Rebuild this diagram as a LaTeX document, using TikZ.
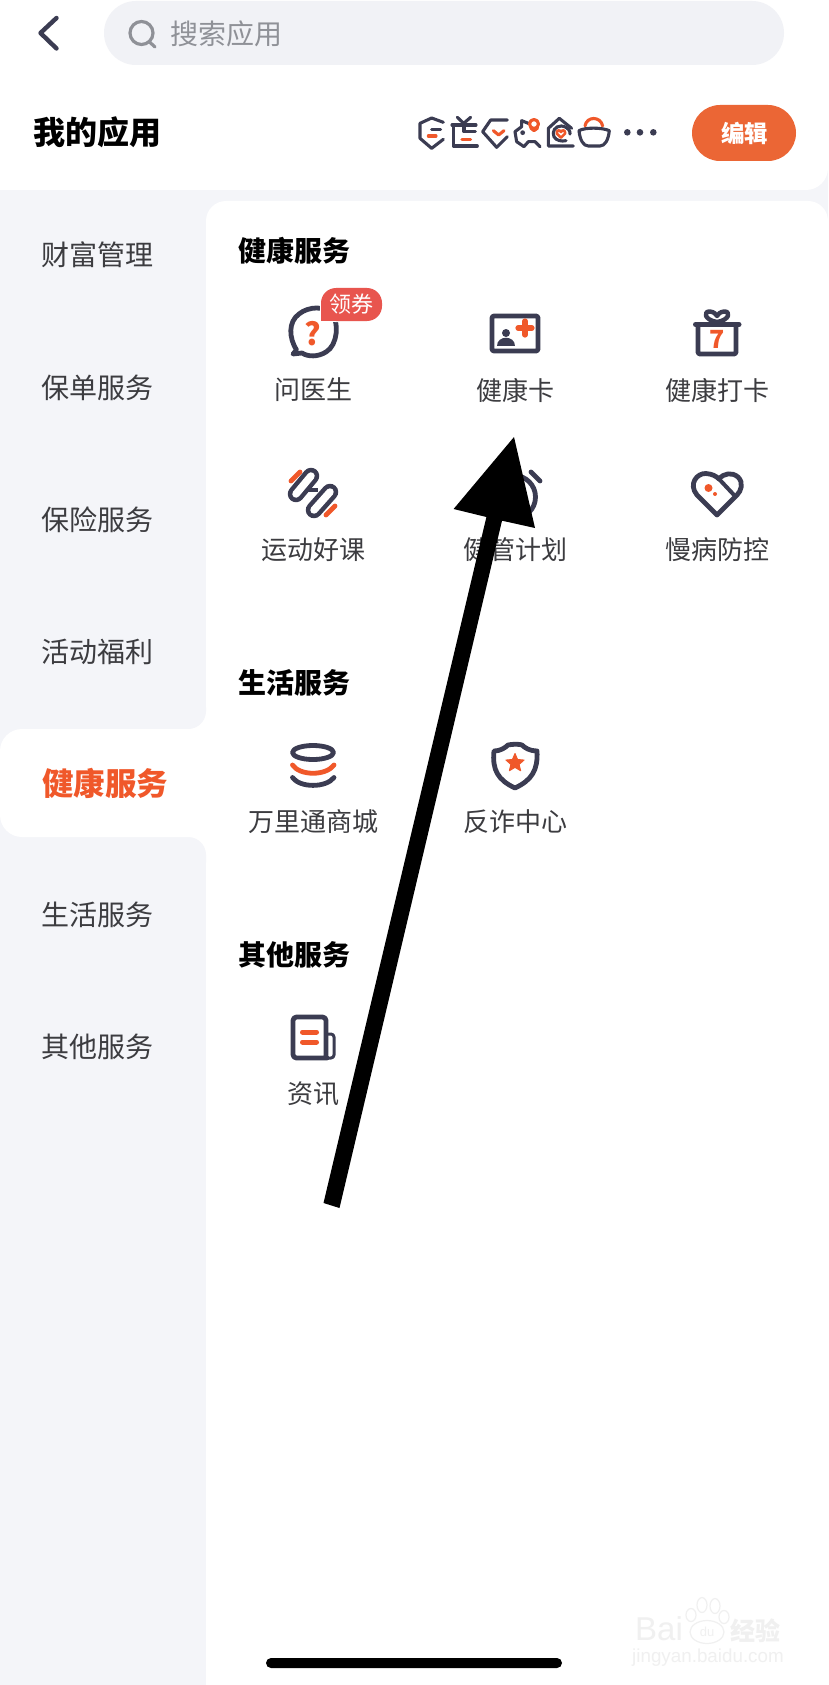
\documentclass[tikz,border=0pt]{standalone}
\usepackage{fontspec}
\setmainfont{Noto Sans CJK SC}
\newfontfamily\latinwm{Liberation Sans}
\usetikzlibrary{shapes.geometric}
\definecolor{pagebg}{HTML}{F4F5F9}
\definecolor{pillbg}{HTML}{F1F2F6}
\definecolor{ink}{HTML}{3B3C52}
\definecolor{acc}{HTML}{F0582A}
\definecolor{btn}{HTML}{EB6635}
\definecolor{badge}{HTML}{E8554E}
\definecolor{labelc}{HTML}{3C3C40}
\definecolor{hint}{HTML}{8F9197}
\definecolor{wm}{HTML}{F0F0F0}
\tikzset{
 ic/.style={draw=ink,line width=4.8pt,line cap=round,line join=round},
 ac/.style={draw=acc,line width=4.8pt,line cap=round,line join=round},
 smallic/.style={draw=ink,line width=3.1pt,line cap=round,line join=round},
 smallac/.style={draw=acc,line width=3.1pt,line cap=round,line join=round},
 lab/.style={font=\fontsize{26}{27}\selectfont,text=labelc,inner sep=0pt,anchor=center},
 side/.style={font=\fontsize{28}{29}\selectfont,text=labelc,inner sep=0pt,anchor=west},
 sect/.style={font=\fontsize{28}{29}\selectfont\bfseries,text=black,inner sep=0pt,anchor=west},
}
\begin{document}
\begin{tikzpicture}[x=1pt,y=-1pt]
\useasboundingbox (0,0) rectangle (828,1685);
\fill[pagebg] (0,0) rectangle (828,1685);
% header
\fill[white,rounded corners=22pt] (-40,-40) rectangle (828,190);
\fill[white] (-1,-1) rectangle (828,60);
% panel
\fill[white,rounded corners=20pt] (206,201) -- (828,201) -- (828,1725) -- (206,1725) -- cycle;
\fill[white] (206,240) rectangle (828,1685);
\fill[white] (188,705) rectangle (206,860);
\fill[pagebg,rounded corners=18pt] (-30,690) -- (206,690) -- (206,729) -- (-30,729) -- cycle;
\fill[pagebg] (-1,680) rectangle (206,712);
\fill[pagebg,rounded corners=18pt] (-30,837) -- (206,837) -- (206,880) -- (-30,880) -- cycle;
\fill[pagebg] (-1,860) rectangle (206,890);
\fill[white,rounded corners=22pt] (0,729) -- (240,729) -- (240,837) -- (0,837) -- cycle;
% search
\fill[pillbg,rounded corners=32pt] (104,1) rectangle (784,65);
\draw[draw=ink,line width=4.4pt,line cap=round,line join=round] (56.5,18) -- (40.5,33) -- (56.5,48.5);
\draw[draw=hint,line width=3.2pt] (141.5,33) circle (11.5pt);
\draw[draw=hint,line width=3.2pt,line cap=round] (149.5,42) -- (155,47);
\node[font=\fontsize{28}{29}\selectfont,text=hint,inner sep=0pt,anchor=west] (searchtxt) at (170.5,33.5) {搜索应用};
\node[font=\fontsize{32}{33}\selectfont\bfseries,text=black,inner sep=0pt,anchor=west] (mine) at (33,132.5) {我的应用};
% button
\fill[btn,rounded corners=28pt] (692,105) rectangle (796,161);
\node[font=\fontsize{23.5}{24}\selectfont\bfseries,text=white,inner sep=0pt] (edit) at (744.5,133) {编辑};
% strip icons
\begin{scope}[x=0.3333pt,y=-0.3333pt,shift={(400pt,-90pt)}]
\draw[smallic] (130,97) -- (95,84) -- (60,100) -- (60,145) -- (95,175) -- (130,148);
\draw[smallic] (95,118) -- (122,118);
\draw[smallac] (85,138) -- (108,138);
\draw[smallic] (172,82) -- (191,100) -- (212,82);
\draw[smallic] (156,105) -- (228,105);
\draw[smallic] (160,105) -- (160,168) -- (232,168);
\draw[smallic] (192,105) -- (192,125) -- (226,125);
\draw[smallac] (186,148) -- (212,148);
\draw[smallic] (322,90) -- (272,90) -- (248,125) -- (290,172) -- (322,140);
\draw[smallac] (280,122) -- (296,135) -- (312,122);
\draw[smallic] (385,100) -- (365,92) -- (365,110) -- (345,125) -- (350,155) -- (372,170) -- (385,155) -- (405,155) -- (420,170);
\fill[ink] (368,128) circle (2.4pt);
\draw[smallac] (402,102) circle (4.5pt);
\draw[smallac] (392,114) -- (402,122) -- (413,114);
\draw[smallic] (515,115) -- (478,85) -- (445,115) -- (445,168) -- (520,168);
\draw[smallic] (510,132) .. controls (512,125) and (505,110) .. (484,108) .. controls (465,108) and (455,125) .. (462,140) .. controls (468,152) and (485,155) .. (498,152);
\draw[draw=acc,line width=2.6pt,line join=round] (483,143) -- (471,131) .. controls (468,120) and (480,118) .. (483,126) .. controls (486,118) and (498,120) .. (495,131) -- cycle;
\draw[smallac] (555,108) .. controls (560,78) and (602,78) .. (608,108);
\draw[smallic] (537,122) .. controls (555,112) and (605,112) .. (628,122) .. controls (625,150) and (615,168) .. (600,168) -- (565,168) .. controls (550,168) and (540,150) .. (537,122) -- cycle;
\fill[ink] (682,127) circle (3.3pt) (720,127) circle (3.3pt) (760,127) circle (3.3pt);
\end{scope}
% sidebar
\node[side] (s1) at (41.5,255) {财富管理};
\node[side] (s2) at (41.5,387.5) {保单服务};
\node[side] (s3) at (41.5,519.5) {保险服务};
\node[side] (s4) at (41.5,651.5) {活动福利};
\node[side,text=acc,font=\fontsize{31.5}{32}\selectfont\bfseries] (s5) at (42,783) {健康服务};
\node[side] (s6) at (41.5,915) {生活服务};
\node[side] (s7) at (41.5,1047) {其他服务};
% sections
\node[sect] (h1) at (238.5,250.5) {健康服务};
\node[sect] (h2) at (238.5,682.5) {生活服务};
\node[sect] (h3) at (238.5,954.5) {其他服务};
% wen yisheng
\draw[ic] (296.5,350) .. controls (289,338) and (288,322) .. (299,314) .. controls (309,306) and (325,306) .. (332,314) .. controls (339,322) and (338,345) .. (326,352) .. controls (318,357) and (308,357) .. (302,353) -- (293,354) -- cycle;
\fill[white,rounded corners=15pt] (320,322) -- (320,286.5) -- (383.5,286.5) -- (383.5,322) -- cycle;
\fill[white] (320,305) rectangle (336,322);
\fill[badge,rounded corners=15pt] (321,321) -- (321,288) -- (382,288) -- (382,321) -- cycle;
\fill[badge] (321,305) rectangle (336,321);
\node[font=\fontsize{22}{23}\selectfont,text=white,inner sep=0pt] (coupon) at (351.5,304.5) {领券};
\node[font=\fontsize{31}{32}\selectfont\bfseries,text=acc,inner sep=0pt] (qm) at (313,334) {?};
\node[lab] (l1) at (313.5,390) {问医生};
% card
\draw[ic,rounded corners=2pt] (492,316) rectangle (538,351);
\draw[draw=acc,line width=5.2pt,line cap=round] (518,328) -- (532,328) (525,321) -- (525,335);
\fill[ink] (506,333) circle (4pt);
\fill[ink] (497,346) .. controls (497,335) and (515,335) .. (515,346) -- cycle;
\node[lab] (l2) at (515.5,390) {健康卡};
% gift
\draw[draw=ink,line width=5pt,line cap=round] (695.5,324.5) -- (739,324.5);
\draw[ic,rounded corners=1.5pt] (698,325) -- (698,354) -- (736,354) -- (736,325);
\draw[draw=ink,line width=4.4pt,line join=round] (717,322) .. controls (704,320) and (703,311) .. (710,311.5) .. controls (714,312) and (716,314) .. (717,316) .. controls (718,314) and (720,312) .. (724,311.5) .. controls (731,311) and (730,320) .. (717,322) -- cycle;
\node[font=\fontsize{25}{26}\selectfont\bfseries,text=acc,inner sep=0pt] (seven) at (717,339) {7};
\node[lab] (l3) at (717.5,390) {健康打卡};
% dumbbell
\draw[draw=ink,line width=16.5pt,line cap=round] (311,476) -- (296,494);
\draw[draw=white,line width=7.5pt,line cap=round] (311,476) -- (296,494);
\draw[draw=ink,line width=16.5pt,line cap=round] (330,492) -- (314,510);
\draw[draw=white,line width=7.5pt,line cap=round] (330,492) -- (314,510);
\draw[draw=ink,line width=4pt] (307,490) -- (318,490);
\draw[ac] (291,481) -- (300,472);
\draw[ac] (326,515) -- (335,506);
\node[lab] (l4) at (313.5,550) {运动好课};
% plan
\draw[ic] (514,497) circle (21.5pt);
\draw[ic] (531,472) -- (540,481);
\node[lab] (l5) at (515.5,550) {健管计划};
% heart
\draw[ic] (717,515) -- (697,495) .. controls (688,484) and (697,473) .. (706,473.5) .. controls (712,474) and (716,476) .. (719,479) .. controls (724,473) and (732,472) .. (738,477) .. controls (744,483) and (741,491) .. (737,495) -- cycle;
\draw[draw=ink,line width=4pt,line cap=round] (719,479) -- (734,495);
\fill[acc] (708.5,488) circle (4pt) (715,494) circle (2pt);
\node[lab] (l6) at (717.5,550) {慢病防控};
% coins
\draw[ic] (313,752.5) ellipse (20.5pt and 7pt);
\draw[ac] (292.5,765) .. controls (300,776) and (326,776) .. (334,765);
\draw[ic] (292.5,777.5) .. controls (300,788) and (326,788) .. (334,777.5);
\node[lab] (l7) at (313.5,822) {万里通商城};
% shield
\draw[ic] (494,751) .. controls (500,751) and (505,748) .. (508,745) .. controls (512,744) and (520,744) .. (522,745) .. controls (525,748) and (530,751) .. (537,751) .. controls (538,770) and (532,780) .. (515,788) .. controls (498,780) and (492,770) .. (494,751) -- cycle;
\node[star,star points=5,star point ratio=2.2,fill=acc,draw=acc,line width=1pt,line join=round,minimum size=19pt,inner sep=0pt] (starA) at (515,763) {};
\node[lab] (l8) at (515.5,822) {反诈中心};
% news
\draw[ic,rounded corners=3.5pt] (327,1058) -- (293,1058) -- (293,1017) -- (326,1017) -- (326,1058);
\draw[draw=ink,line width=3pt,line join=round,rounded corners=3pt] (327,1034) -- (334,1034) -- (334,1058) -- (325,1058);
\draw[draw=acc,line width=5pt,line cap=round] (302.5,1032) -- (316.5,1032) (302.5,1042) -- (316.5,1042);
\node[lab] (l9) at (313.5,1094) {资讯};
% home bar
\fill[black,rounded corners=5pt] (266,1658) rectangle (562,1668);
% watermark
\node[font=\fontsize{33}{33}\selectfont\latinwm,text=wm,inner sep=0pt,anchor=west] (wmb) at (635,1629) {Bai};
\draw[draw=wm,line width=1.2pt] (707,1632) ellipse (17pt and 11.5pt);
\node[font=\fontsize{13}{14}\selectfont\latinwm,text=wm,inner sep=0pt] (wmd) at (707,1632) {du};
\draw[draw=wm,line width=1.2pt] (691,1615) ellipse (5pt and 6.5pt) (702,1605) ellipse (5pt and 7.5pt) (715,1606) ellipse (5pt and 7.5pt) (724,1617) ellipse (5pt and 6.5pt);
\node[font=\fontsize{25}{26}\selectfont\bfseries,text=wm,inner sep=0pt] (wmj) at (755,1631) {经验};
\node[font=\fontsize{18.8}{19}\selectfont\latinwm,text=wm,inner sep=0pt] (wmu) at (708,1658) {jingyan.baidu.com};
% arrow
\coordinate (tail1) at (323.5,1203);
\coordinate (tail2) at (339.5,1208);
\coordinate (neckR) at (502,520.7);
\coordinate (barbR) at (535,528);
\coordinate (tip) at (514,437);
\coordinate (barbL) at (453.6,509);
\coordinate (neckL) at (486.4,517);
\fill[black] (tail1) -- (neckL) -- (barbL) -- (tip) -- (barbR) -- (neckR) -- (tail2) -- cycle;
\end{tikzpicture}
\end{document}
